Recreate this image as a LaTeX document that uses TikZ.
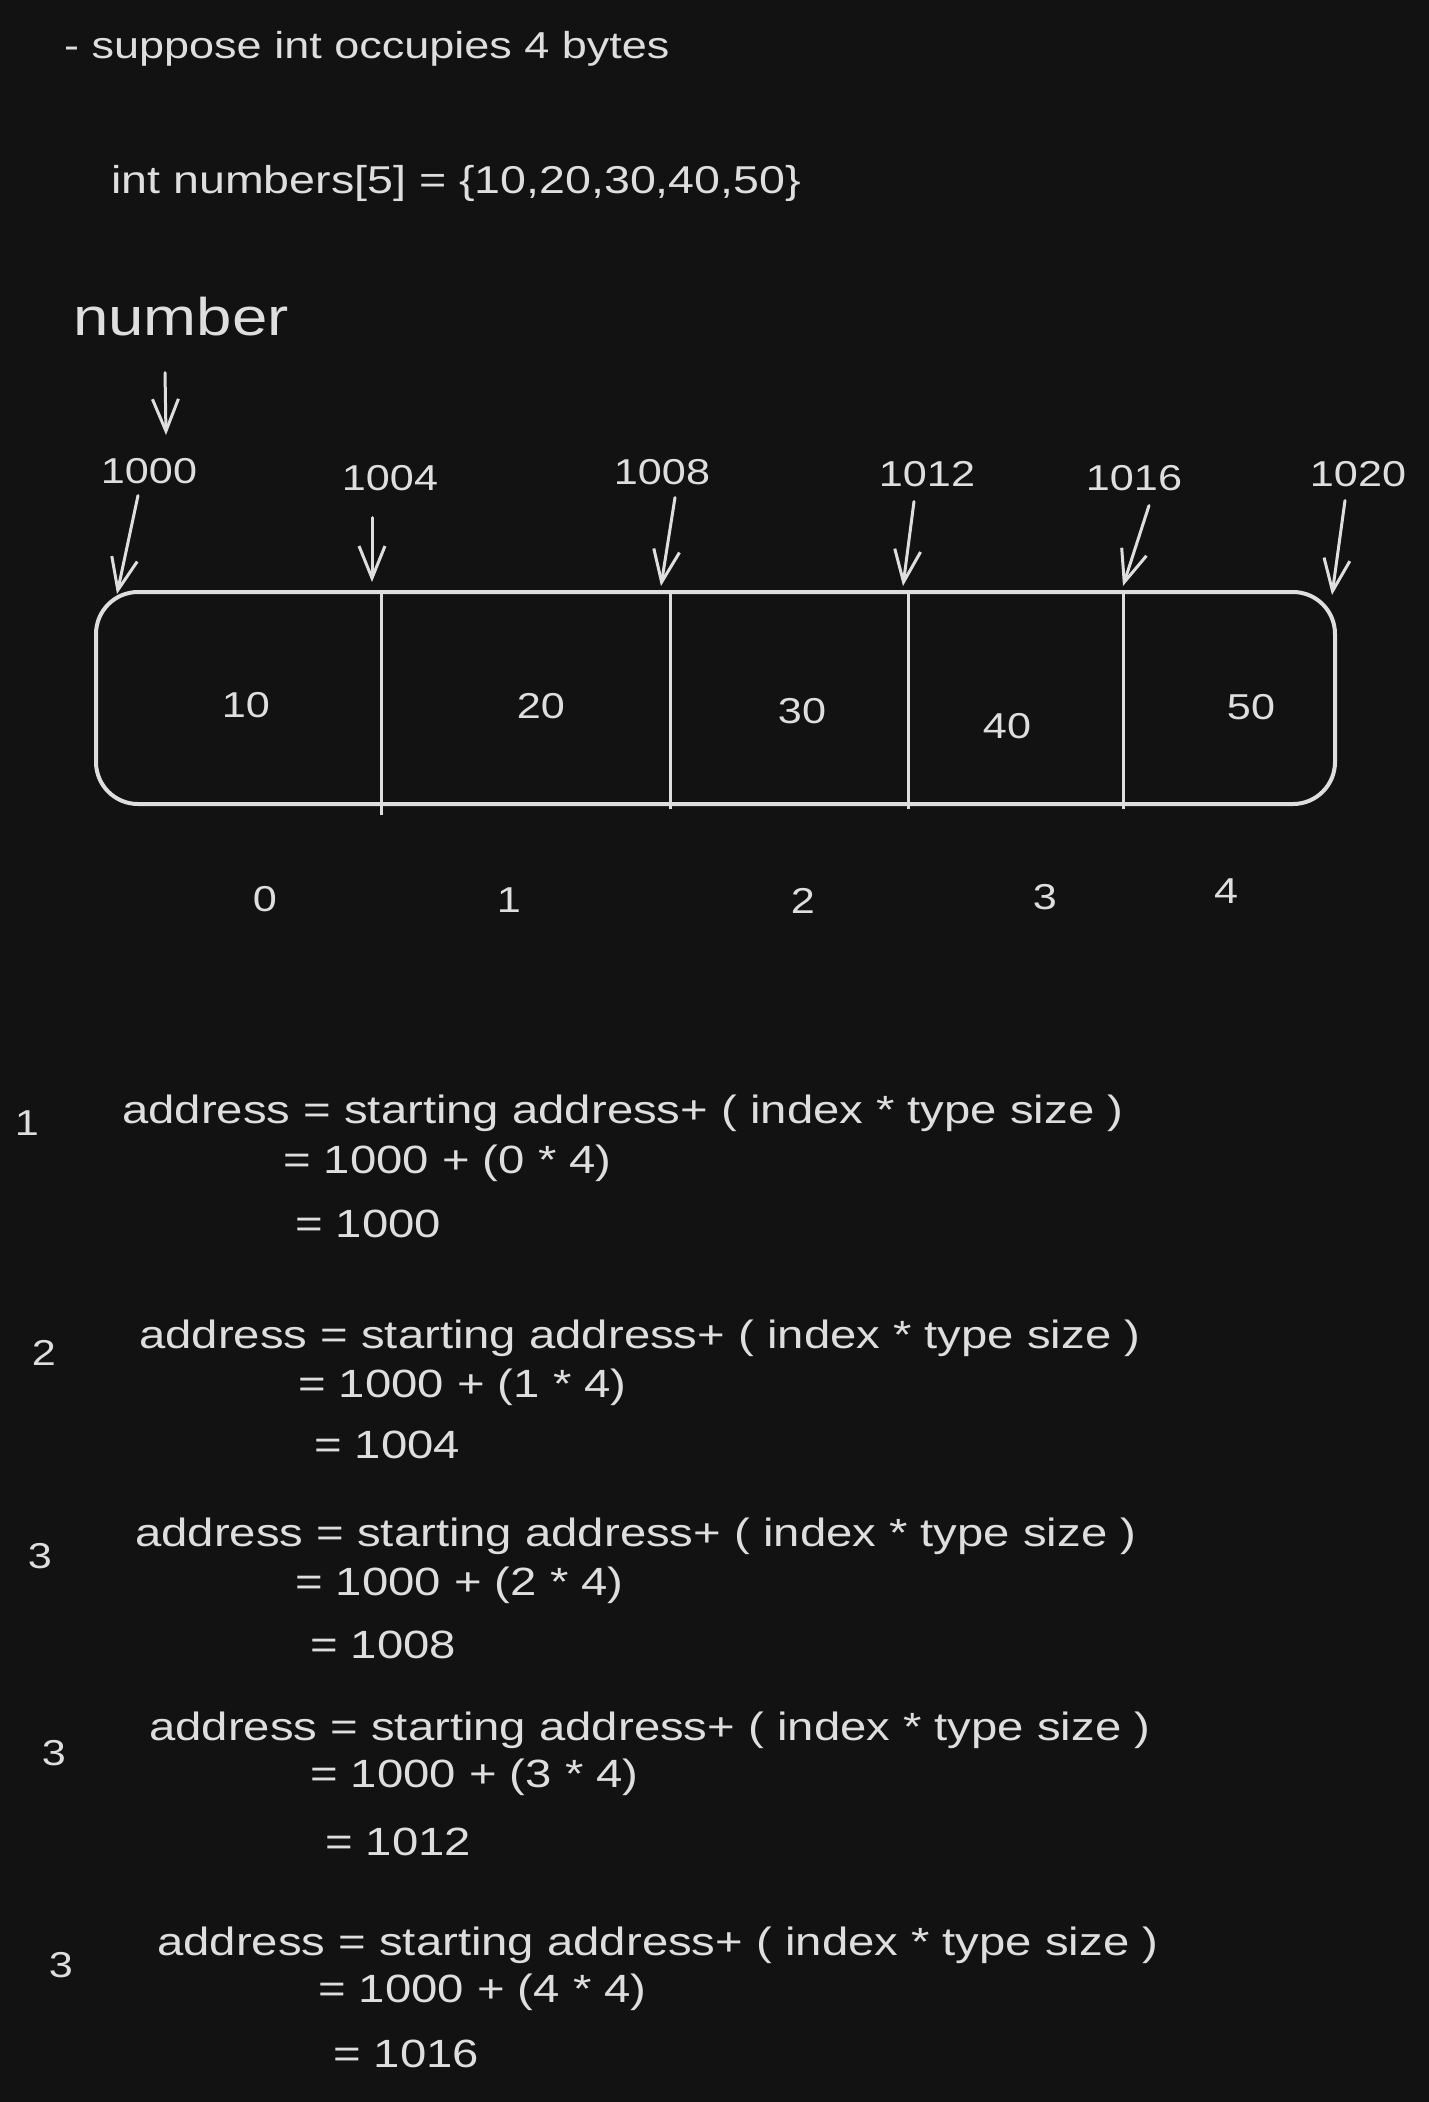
\documentclass[tikz,border=0pt]{standalone}
\usepackage{fontspec}
\setmainfont{Liberation Sans}[FakeStretch=1.2]
\usetikzlibrary{arrows.meta, positioning, calc}
\definecolor{board}{RGB}{18,18,18}
\definecolor{chalk}{RGB}{222,222,222}

\begin{document}
\begin{tikzpicture}[x=1pt,y=-1pt,
  txt/.style={text=chalk,inner sep=0pt,anchor=base west,font=\fontsize{39.4}{45}\selectfont},
  num/.style={text=chalk,inner sep=0pt,anchor=base,font=\fontsize{36}{42}\selectfont},
  ptr/.style={draw=chalk,line width=3pt,line cap=round,-{Straight Barb[length=32pt,width=26pt,line width=3pt]}}]
% Board
\useasboundingbox (0,0) rectangle (1428,2102);
\fill[board] (-6,-6) rectangle (1434,2108);
% Declaration
\node[txt,font=\fontsize{37.5}{42}\selectfont] (note) at (64,58) {- suppose int occupies 4 bytes};
\node[txt,font=\fontsize{38.8}{44}\selectfont] (decl) at (111,193) {int numbers[5] = \{10,20,30,40,50\}};
\node[txt,font=\fontsize{53}{60}\selectfont] (name) at (73,335) {number};
\coordinate (t_name) at (166,435);
\draw[ptr] ([xshift=-16pt,yshift=-37pt]name.south) -- (t_name);
% Memory block
\draw[chalk,line width=4pt,rounded corners=42pt] (96,592) rectangle (1335,804);
\draw[chalk,line width=3pt] (381,592) -- (381,815) (670,592) -- (670,809) (908,592) -- (908,809) (1123,592) -- (1123,809);
% Addresses
\node[num] (addr_0) at (149,483) {1000};
\node[num] (addr_1) at (390,490) {1004};
\node[num] (addr_2) at (662,484) {1008};
\node[num] (addr_3) at (927,486) {1012};
\node[num] (addr_4) at (1134,490) {1016};
\node[num] (addr_5) at (1358,486) {1020};
\coordinate (t_0) at (117,594);
\coordinate (t_1) at (372,582);
\coordinate (t_2) at (661,586);
\coordinate (t_3) at (903,586);
\coordinate (t_4) at (1123,586);
\coordinate (t_5) at (1332,595);
\draw[ptr] ([xshift=-11pt,yshift=-12pt]addr_0.south) -- (t_0);
\draw[ptr] ([xshift=-18pt,yshift=-27pt]addr_1.south) -- (t_1);
\draw[ptr] ([xshift=13pt,yshift=-13pt]addr_2.south) -- (t_2);
\draw[ptr] ([xshift=-13pt,yshift=-15pt]addr_3.south) -- (t_3);
\draw[ptr] ([xshift=15pt,yshift=-15pt]addr_4.south) -- (t_4);
\draw[ptr] ([xshift=-13pt,yshift=-14pt]addr_5.south) -- (t_5);
% Values
\node[num] (val_0) at (246,717) {10};
\node[num] (val_1) at (541,718) {20};
\node[num] (val_2) at (802,723) {30};
\node[num] (val_3) at (1007,738) {40};
\node[num] (val_4) at (1251,719) {50};
% Indices
\node[num] (idx_0) at (265,911) {0};
\node[num] (idx_1) at (509,912) {1};
\node[num] (idx_2) at (803,913) {2};
\node[num] (idx_3) at (1045,909) {3};
\node[num] (idx_4) at (1226,903) {4};
% Formula 1
\node[num] (f1_k) at (27,1135) {1};
\node[txt] (f1_a) at (122,1123) {address = starting address+ ( index * type size )};
\node[txt] (f1_b) at (283,1173) {= 1000 + (0 * 4)};
\node[txt] (f1_c) at (295,1237) {= 1000};
% Formula 2
\node[num] (f2_k) at (44,1365) {2};
\node[txt] (f2_a) at (139,1348) {address = starting address+ ( index * type size )};
\node[txt] (f2_b) at (298,1397) {= 1000 + (1 * 4)};
\node[txt] (f2_c) at (314,1458) {= 1004};
% Formula 3
\node[num] (f3_k) at (40,1568) {3};
\node[txt] (f3_a) at (135,1546) {address = starting address+ ( index * type size )};
\node[txt] (f3_b) at (295,1595) {= 1000 + (2 * 4)};
\node[txt] (f3_c) at (310,1658) {= 1008};
% Formula 4
\node[num] (f4_k) at (54,1765) {3};
\node[txt] (f4_a) at (149,1740) {address = starting address+ ( index * type size )};
\node[txt] (f4_b) at (310,1787) {= 1000 + (3 * 4)};
\node[txt] (f4_c) at (325,1855) {= 1012};
% Formula 5
\node[num] (f5_k) at (61,1977) {3};
\node[txt] (f5_a) at (157,1955) {address = starting address+ ( index * type size )};
\node[txt] (f5_b) at (318,2002) {= 1000 + (4 * 4)};
\node[txt] (f5_c) at (333,2067) {= 1016};
\end{tikzpicture}
\end{document}
